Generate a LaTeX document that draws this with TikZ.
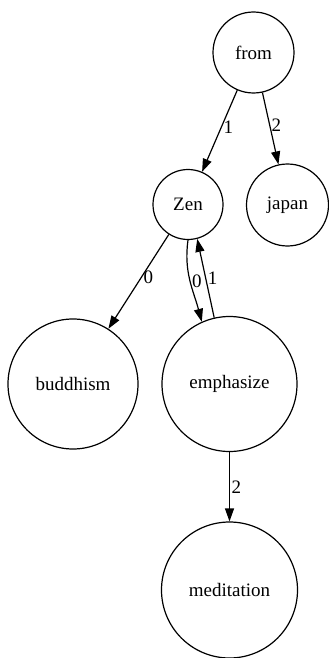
\documentclass[tikz,border=0pt]{standalone}
\usepackage{fontspec}
\setmainfont{Liberation Serif}
\usetikzlibrary{arrows.meta}
\begin{document}
\begin{tikzpicture}[x=1pt,y=1pt,
  vtx/.style={draw, circle, line width=1.2pt, inner sep=0pt, font=\fontsize{19}{22}\selectfont},
  conn/.style={line width=1.2pt, -{Triangle[length=13pt,width=9pt]}},
  elab/.style={font=\fontsize{19}{22}\selectfont, inner sep=1.5pt, anchor=west}]
\useasboundingbox (0,0) rectangle (329,-658);
\node[vtx, minimum size=81pt] (from) at (253.5,-52.5) {from};
\node[vtx, minimum size=70pt] (zen) at (188,-204.5) {Zen};
\node[vtx, minimum size=82pt] (japan) at (287.5,-205) {japan};
\node[vtx, minimum size=130pt] (buddhism) at (73,-384) {buddhism};
\node[vtx, minimum size=135pt] (emph) at (229.5,-384) {emphasize};
\node[vtx, minimum size=136pt] (medit) at (229.5,-590) {meditation};
\draw[conn] (from) -- node[elab, pos=0.45] {1} (zen);
\draw[conn] (from) -- node[elab, pos=0.45] {2} (japan);
\draw[conn] (zen) -- node[elab, pos=0.45] {0} (buddhism);
\draw[conn] (zen.-90) to[out=-98,in=105] node[elab, pos=0.5] {0} (emph.114);
\draw[conn] (emph.103) -- node[elab, pos=0.5] {1} (zen.-75);
\draw[conn] (emph) -- node[elab, pos=0.5] {2} (medit);
\end{tikzpicture}
\end{document}
